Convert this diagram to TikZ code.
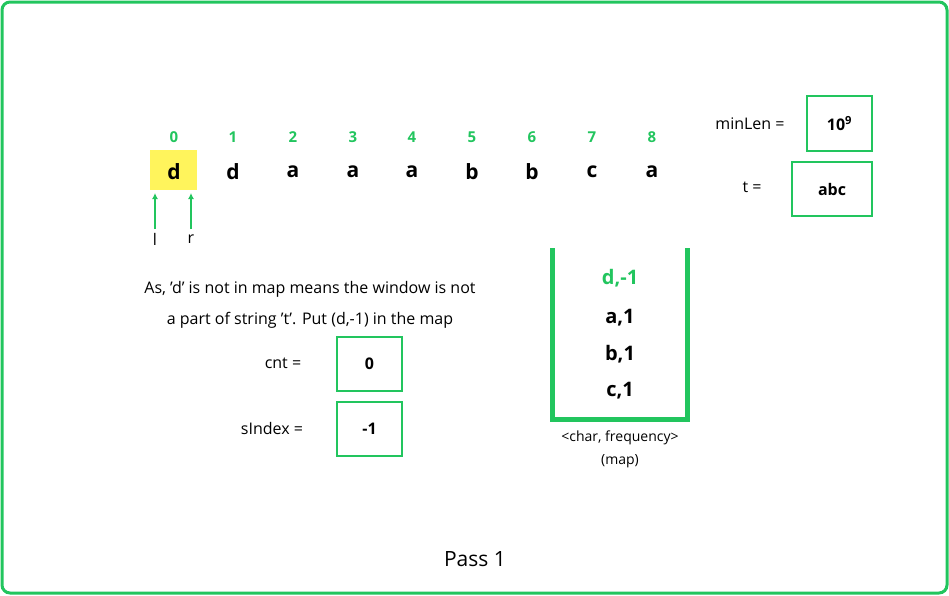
\documentclass[tikz,border=0pt]{standalone}
\usepackage{fontspec}
\setmainfont{Open Sans}
\usetikzlibrary{arrows.meta}
\definecolor{gr}{HTML}{22C55E}
\definecolor{yl}{HTML}{FFF45C}
\begin{document}
\begin{tikzpicture}[x=1pt,y=-1pt,
  idx/.style={text=gr,font=\fontsize{15}{18}\selectfont\bfseries},
  chr/.style={font=\fontsize{21}{25}\selectfont\bfseries},
  lbl/.style={font=\fontsize{16}{20}\selectfont},
  vbox/.style={draw=gr,line width=2.5pt,font=\fontsize{16}{20}\selectfont\bfseries},
  ent/.style={font=\fontsize{20}{24}\selectfont\bfseries},
  arr/.style={draw=gr,line width=1.6pt,-{Latex[length=6pt,width=6pt]}}]
\useasboundingbox (0,0) rectangle (949,595);
\draw[gr,line width=3pt,rounded corners=8pt] (2,2) rectangle (947,593);
\fill[yl] (150,150) rectangle (197,190);
\foreach \i/\c/\x in {0/d/174,1/d/233,2/a/293,3/a/353,4/a/412,5/b/472,6/b/532,7/c/592,8/a/652}{
  \node[idx] (i\i) at (\x,137) {\i};
  \node[chr] (c\i) at (\x,172) {\c};
}
\coordinate (lt) at (155,193); \coordinate (lb) at (155,229);
\coordinate (rt) at (191,193); \coordinate (rb) at (191,229);
\draw[arr] (lb) -- (lt);
\draw[arr] (rb) -- (rt);
\node[lbl] (l) at (155,239) {l};
\node[lbl] (r) at (191,239) {r};
\node[lbl] (ml) at (750,124) {minLen =};
\node[vbox,minimum width=65pt,minimum height=55pt] (mb) at (839.5,123.5) {10\textsuperscript{9}};
\node[lbl] (tl) at (752,187) {t =};
\node[vbox,minimum width=80pt,minimum height=54pt] (tb) at (832,189) {abc};
\node[lbl] (t1) at (310,289) {As, 'd' is not in map means the window is not};
\node[lbl] (t2) at (310,320) {a part of string 't'. Put (d,-1) in the map};
\node[lbl] (cl) at (283,363) {cnt =};
\node[vbox,minimum width=65pt,minimum height=54pt] (cb) at (369.5,364) {0};
\node[lbl] (sl) at (272,428) {sIndex =};
\node[vbox,minimum width=65pt,minimum height=54pt] (sb) at (369.5,429) {-1};
\draw[gr,line width=5pt] (552,248) -- (552,419) -- (687,419) -- (687,248);
\node[ent,text=gr] (e1) at (620,278) {d,-1};
\node[ent] (e2) at (620,318) {a,1};
\node[ent] (e3) at (620,354) {b,1};
\node[ent] (e4) at (620,391) {c,1};
\node[font=\fontsize{14}{17}\selectfont] (m1) at (620,438) {<char, frequency>};
\node[font=\fontsize{14}{17}\selectfont] (m2) at (620,461) {(map)};
\node[font=\fontsize{21}{25}\selectfont] (p) at (475,559) {Pass 1};
\end{tikzpicture}
\end{document}
